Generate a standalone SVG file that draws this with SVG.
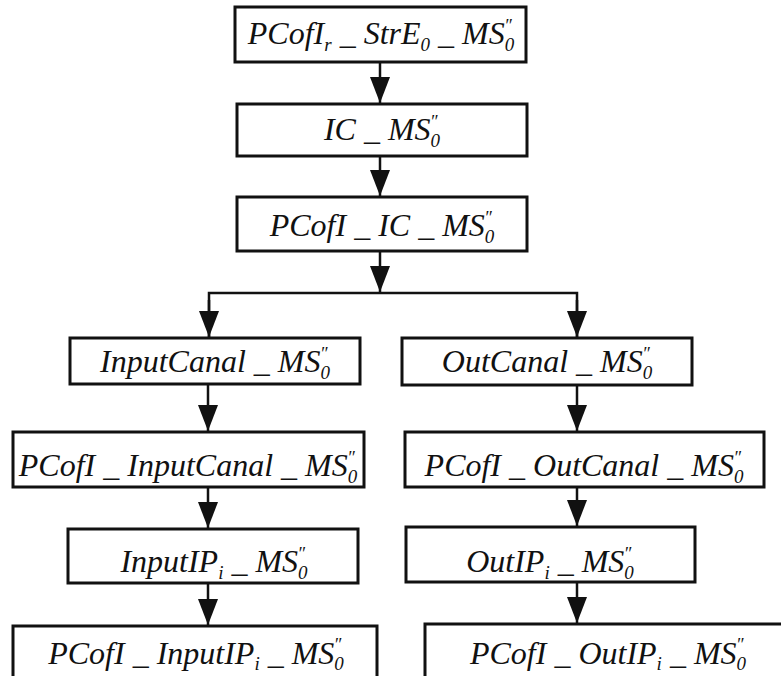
<svg xmlns="http://www.w3.org/2000/svg" width="781" height="676" viewBox="0 0 781 676">
<defs>
<style>
.box{fill:#fff;stroke:#111;stroke-width:3}
.lbl{font-family:"Liberation Serif","Times New Roman",serif;font-style:italic;font-size:32px;fill:#111;text-anchor:middle}
.sb{font-size:19px}
.sp{font-size:18px}
.con{stroke:#111;stroke-width:2.5;fill:none}
</style>
<marker id="ah" viewBox="0 0 26 20" refX="26" refY="10" markerWidth="26" markerHeight="20" markerUnits="userSpaceOnUse" orient="auto">
<path d="M0,0 L26,10 L0,20 Z" fill="#111"/>
</marker>
</defs>
<rect width="781" height="676" fill="#fff"/>
<g id="connectors">
<line class="con" x1="380" y1="62" x2="380" y2="103" marker-end="url(#ah)"/>
<line class="con" x1="380" y1="156" x2="380" y2="196" marker-end="url(#ah)"/>
<line class="con" x1="380" y1="251" x2="380" y2="292" marker-end="url(#ah)"/>
<polyline class="con" points="209,337 209,293 577,293 577,337"/>
<line class="con" x1="209" y1="300" x2="209" y2="337" marker-end="url(#ah)"/>
<line class="con" x1="577" y1="300" x2="577" y2="337" marker-end="url(#ah)"/>
<line class="con" x1="208" y1="384" x2="208" y2="431" marker-end="url(#ah)"/>
<line class="con" x1="208" y1="487" x2="208" y2="528" marker-end="url(#ah)"/>
<line class="con" x1="208" y1="583" x2="208" y2="625" marker-end="url(#ah)"/>
<line class="con" x1="577" y1="385" x2="577" y2="431" marker-end="url(#ah)"/>
<line class="con" x1="577" y1="487" x2="577" y2="526" marker-end="url(#ah)"/>
<line class="con" x1="577" y1="582" x2="577" y2="623" marker-end="url(#ah)"/>
</g>
<g id="n1">
<rect class="box" x="235" y="7" width="291" height="55"/>
<text class="lbl" x="381" y="44">PCofI<tspan class="sb" dy="7">r</tspan><tspan dy="-7"> _ StrE</tspan><tspan class="sb" dy="7">0</tspan><tspan dy="-7"> _ MS</tspan><tspan class="sb" dy="7">0</tspan><tspan class="sp" dx="-10" dy="-19">″</tspan></text>
</g>
<g id="n2">
<rect class="box" x="237" y="104" width="290" height="52"/>
<text class="lbl" x="382" y="140">IC _ MS<tspan class="sb" dy="7">0</tspan><tspan class="sp" dx="-10" dy="-19">″</tspan></text>
</g>
<g id="n3">
<rect class="box" x="237" y="197" width="290" height="54"/>
<text class="lbl" x="382" y="236">PCofI _ IC _ MS<tspan class="sb" dy="7">0</tspan><tspan class="sp" dx="-10" dy="-19">″</tspan></text>
</g>
<g id="n4">
<rect class="box" x="70" y="338" width="290" height="46"/>
<text class="lbl" x="215" y="372">InputCanal _ MS<tspan class="sb" dy="7">0</tspan><tspan class="sp" dx="-10" dy="-19">″</tspan></text>
</g>
<g id="n5">
<rect class="box" x="402" y="338" width="290" height="47"/>
<text class="lbl" x="547" y="372">OutCanal _ MS<tspan class="sb" dy="7">0</tspan><tspan class="sp" dx="-10" dy="-19">″</tspan></text>
</g>
<g id="n6">
<rect class="box" x="13" y="432" width="351" height="55"/>
<text class="lbl" x="188" y="476">PCofI _ InputCanal _ MS<tspan class="sb" dy="7">0</tspan><tspan class="sp" dx="-10" dy="-19">″</tspan></text>
</g>
<g id="n7">
<rect class="box" x="405" y="432" width="359" height="55"/>
<text class="lbl" x="584" y="476">PCofI _ OutCanal _ MS<tspan class="sb" dy="7">0</tspan><tspan class="sp" dx="-10" dy="-19">″</tspan></text>
</g>
<g id="n8">
<rect class="box" x="68" y="529" width="290" height="54"/>
<text class="lbl" x="214" y="572">InputIP<tspan class="sb" dy="7">i</tspan><tspan dy="-7"> _ MS</tspan><tspan class="sb" dy="7">0</tspan><tspan class="sp" dx="-10" dy="-19">″</tspan></text>
</g>
<g id="n9">
<rect class="box" x="406" y="527" width="289" height="55"/>
<text class="lbl" x="550" y="572">OutIP<tspan class="sb" dy="7">i</tspan><tspan dy="-7"> _ MS</tspan><tspan class="sb" dy="7">0</tspan><tspan class="sp" dx="-10" dy="-19">″</tspan></text>
</g>
<g id="n10">
<rect class="box" x="13" y="626" width="364" height="60"/>
<text class="lbl" x="196" y="664">PCofI _ InputIP<tspan class="sb" dy="6">i</tspan><tspan dy="-6"> _ MS</tspan><tspan class="sb" dy="6">0</tspan><tspan class="sp" dx="-10" dy="-19">″</tspan></text>
</g>
<g id="n11">
<rect class="box" x="425" y="624" width="370" height="62"/>
<text class="lbl" x="608" y="664">PCofI _ OutIP<tspan class="sb" dy="6">i</tspan><tspan dy="-6"> _ MS</tspan><tspan class="sb" dy="6">0</tspan><tspan class="sp" dx="-10" dy="-19">″</tspan></text>
</g>
</svg>
